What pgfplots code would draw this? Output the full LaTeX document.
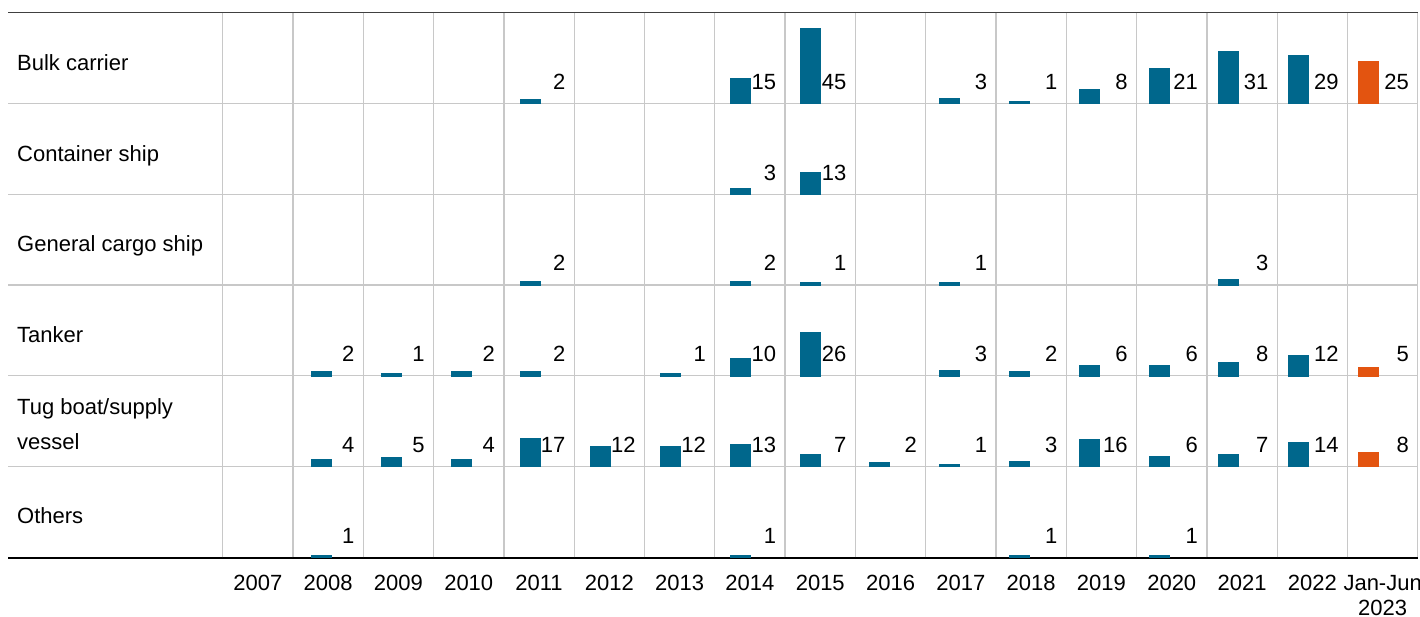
\documentclass[border=0pt]{standalone}
\usepackage{fontspec}
\setmainfont{Liberation Sans}
\usepackage{pgfplots}
\usepackage{pgfplotstable}
\pgfplotsset{compat=1.18}
\definecolor{barblue}{RGB}{0,103,140}
\definecolor{barorange}{RGB}{227,84,16}
\definecolor{gridgray}{RGB}{200,200,200}
\definecolor{topgray}{RGB}{64,64,64}
\newcommand\cf{\fontsize{11bp}{12.5bp}\selectfont}

% x = column index (0 = 2007, ..., 15 = 2022, 16 = Jan-Jun 2023)
\pgfplotstableread{
x v
4 2
7 15
8 45
10 3
11 1
12 8
13 21
14 31
15 29
16 25
}\bulk
\pgfplotstableread{
x v
7 3
8 13
}\container
\pgfplotstableread{
x v
4 2
7 2
8 1
10 1
14 3
}\general
\pgfplotstableread{
x v
1 2
2 1
3 2
4 2
6 1
7 10
8 26
10 3
11 2
12 6
13 6
14 8
15 12
16 5
}\tanker
\pgfplotstableread{
x v
1 4
2 5
3 4
4 17
5 12
6 12
7 13
8 7
9 2
10 1
11 3
12 16
13 6
14 7
15 14
16 8
}\tug
\pgfplotstableread{
x v
1 1
7 1
11 1
13 1
}\others

\pgfplotsset{
  rowaxis/.style={
    scale only axis, width=597.55bp, height=45.39bp,
    xmin=-0.5, xmax=16.5, ymin=0, ymax=55.02,
    anchor=south west,
    axis line style={draw=none},
    xtick={0,...,16}, xticklabels={}, ytick=\empty,
    minor xtick={-0.5,0.5,...,16.5},
    xminorgrids=true, xmajorgrids=false,
    minor grid style={draw=gridgray, line width=0.65bp},
    major tick length=0pt, minor tick length=0pt,
    clip=false,
    /pgf/number format/assume math mode=true,
    tick label style={font=\cf},
  },
  barsty/.style={ybar, bar width=9.6bp, bar shift=0pt, fill=#1, draw=#1, line width=0.9bp},
  labsty/.style={draw=none, mark=none, nodes near coords, point meta=explicit,
    every node near coord/.append style={anchor=base east, xshift=13.3bp, yshift=7bp, inner sep=0pt, font=\cf, text=black}},
}
\newcommand\blueplot[1]{\addplot[barsty=barblue, restrict x to domain=-1:15.5] table[x expr=\thisrow{x}*0.99289-0.0875, y=v] {#1};}
\newcommand\orangeplot[1]{\addplot[barsty=barorange, restrict x to domain=15.5:17] table[x expr=\thisrow{x}*0.99289-0.0875, y=v] {#1};}
\newcommand\labelplot[1]{\addplot[labsty] table[x=x, y expr=0, meta=v] {#1};}

\begin{document}
\cf
\begin{tikzpicture}
\useasboundingbox (0,0) rectangle (710bp,308.5bp);
% horizontal rules
\foreach \yy in {256.8,211.4,166.05,120.65,75.25}
  \draw[gridgray, line width=0.65bp] (4.15bp,\yy bp) -- (708.9bp,\yy bp);
\draw[topgray, line width=0.8bp] (4.15bp,302.2bp) -- (708.9bp,302.2bp);
\draw[black, line width=0.8bp] (4.15bp,29.6bp) -- (708.9bp,29.6bp);

% row labels
\node[anchor=base west, inner sep=0pt] at (8.4bp,273.3bp) {Bulk carrier};
\node[anchor=base west, inner sep=0pt] at (8.4bp,227.9bp) {Container ship};
\node[anchor=base west, inner sep=0pt] at (8.4bp,182.5bp) {General cargo ship};
\node[anchor=base west, inner sep=0pt] at (8.4bp,137.15bp) {Tanker};
\node[anchor=base west, inner sep=0pt] at (8.4bp,101.15bp) {Tug boat/supply};
\node[anchor=base west, inner sep=0pt] at (8.4bp,83.65bp) {vessel};
\node[anchor=base west, inner sep=0pt] at (8.4bp,46.6bp) {Others};

% Bulk carrier
\begin{axis}[rowaxis, at={(111.35bp,256.8bp)}]
\blueplot{\bulk}
\orangeplot{\bulk}
\labelplot{\bulk}
\end{axis}
% Container ship
\begin{axis}[rowaxis, at={(111.35bp,211.4bp)}]
\blueplot{\container}
\labelplot{\container}
\end{axis}
% General cargo ship
\begin{axis}[rowaxis, at={(111.35bp,166.05bp)}]
\blueplot{\general}
\labelplot{\general}
\end{axis}
% Tanker
\begin{axis}[rowaxis, at={(111.35bp,120.65bp)}]
\blueplot{\tanker}
\orangeplot{\tanker}
\labelplot{\tanker}
\end{axis}
% Tug boat / supply vessel
\begin{axis}[rowaxis, at={(111.35bp,75.25bp)}]
\blueplot{\tug}
\orangeplot{\tug}
\labelplot{\tug}
\end{axis}
% Others
\begin{axis}[rowaxis, at={(111.35bp,29.85bp)},
  xticklabels={2007,2008,2009,2010,2011,2012,2013,2014,2015,2016,2017,2018,2019,2020,2021,2022,{\begin{tabular}[t]{@{}c@{}}Jan-Jun\\2023\end{tabular}}},
  xticklabel style={anchor=base, yshift=-16.5bp, inner sep=0pt, text=black},
]
\blueplot{\others}
\labelplot{\others}
\end{axis}
\end{tikzpicture}
\end{document}
